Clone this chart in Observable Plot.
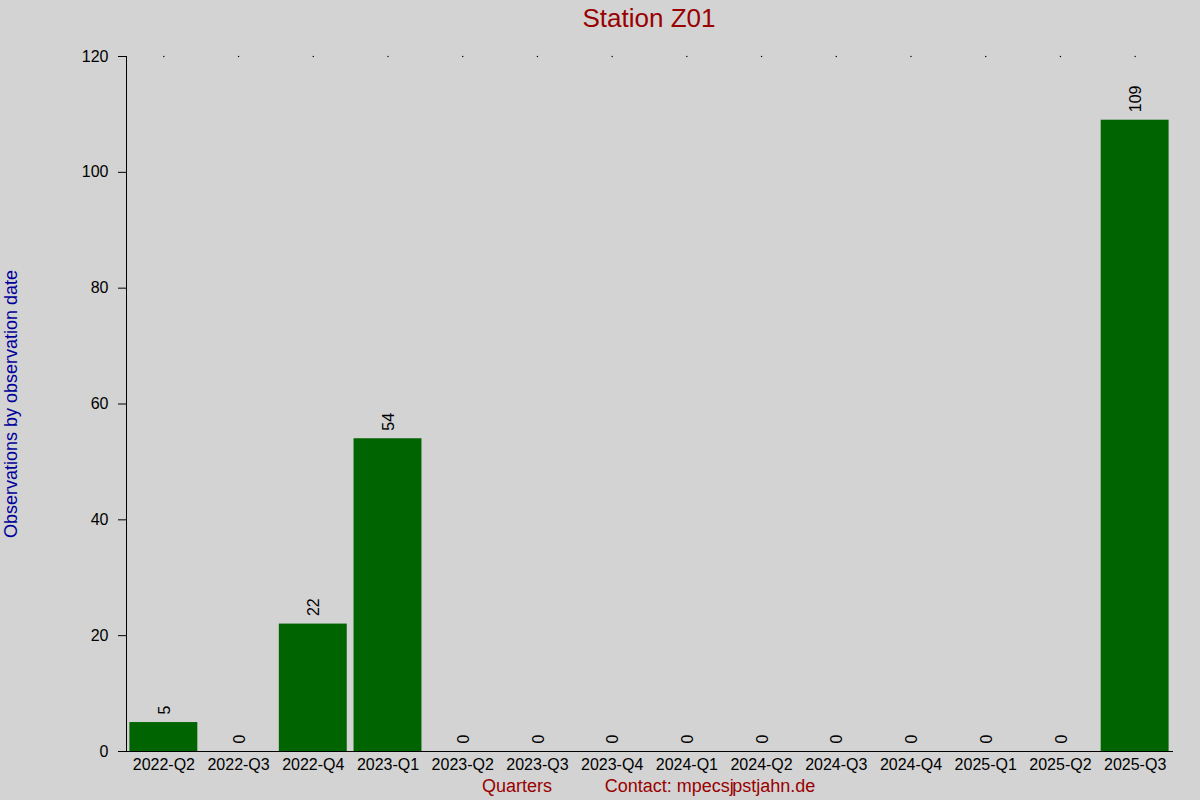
<!DOCTYPE html>
<html>
<head>
<meta charset="utf-8">
<script src="https://cdn.jsdelivr.net/npm/d3@7"></script>
<script src="https://cdn.jsdelivr.net/npm/@observablehq/plot@0.6"></script>
<style>
  html, body { margin: 0; padding: 0; background: #d3d3d3; }
  body { width: 1200px; height: 800px; overflow: hidden; font-family: "Liberation Sans", Arial, sans-serif; }
  #title { height: 38px; position: relative; }
  #title span { position: absolute; left: 649px; top: 3px; transform: translateX(-50%); font-size: 26px; color: #990000; white-space: nowrap; line-height: 30px; }
  #footer { height: 24px; position: relative; }
  #footer span { position: absolute; top: 0px; transform: translateX(-50%); font-size: 18px; color: #990000; white-space: nowrap; line-height: 20px; }
  svg { display: block; }
</style>
</head>
<body>
<div id="title"><span>Station Z01</span></div>
<div id="chart"></div>
<div id="footer"><span style="left:517px">Quarters</span><span style="left:710px">Contact: mpecs<span style="position:static;transform:none;letter-spacing:-0.08em">j</span>pstjahn.de</span></div>
<script>
const quarters = ["2022-Q2","2022-Q3","2022-Q4","2023-Q1","2023-Q2","2023-Q3","2023-Q4","2024-Q1","2024-Q2","2024-Q3","2024-Q4","2025-Q1","2025-Q2","2025-Q3"];
const counts = [5, 0, 22, 54, 0, 0, 0, 0, 0, 0, 0, 0, 0, 109];
const yTicks = [0, 20, 40, 60, 80, 100, 120];
const yLabel = "Observations by observation date";
const yMax = 120;

const data = quarters.map((q, i) => ({quarter: q, count: counts[i]}));

const chart = Plot.plot({
  width: 1200,
  height: 738,
  marginTop: 18,
  marginBottom: 25,
  marginLeft: 126,
  marginRight: 28,
  style: {background: "#d3d3d3", fontFamily: "Liberation Sans, Arial, sans-serif", fontSize: "16px", color: "black"},
  x: {domain: quarters, padding: 0, round: false, tickSize: 0, tickPadding: 7, label: null, line: true},
  y: {domain: [0, yMax], ticks: yTicks, tickSize: 8, tickPadding: 10, label: null, line: true},
  marks: [
    Plot.barY(data, {x: "quarter", y: "count", fill: "#006400", insetLeft: 3.4, insetRight: 3.4}),
    Plot.text(data, {x: "quarter", y: "count", text: d => String(d.count), rotate: -90, textAnchor: "start", dy: -8, dx: 1, fontSize: 16, fill: "black"}),
    Plot.dot(quarters, {x: d => d, y: () => yMax, r: 0.7, fill: "black", stroke: null}),
    Plot.text([yLabel], {frameAnchor: "left", textAnchor: "middle", text: d => d, rotate: -90, dx: -115, fontSize: 18, fill: "#000099"})
  ]
});
document.getElementById("chart").appendChild(chart);
</script>
</body>
</html>
